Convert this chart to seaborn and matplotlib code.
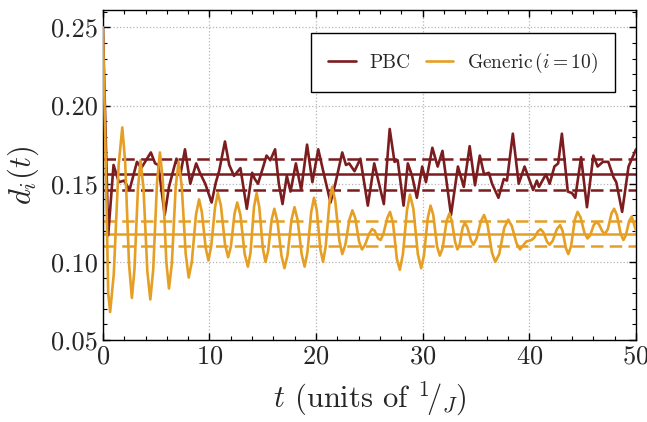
import matplotlib
matplotlib.use("Agg")
import matplotlib.pyplot as plt
import pandas as pd
import seaborn as sns
from matplotlib.ticker import MultipleLocator

# PBC trace (time, value)
pbc_t = [0.0, 0.5, 1.0, 1.5, 2.0, 2.5, 3.2, 3.6, 4.5, 4.9, 5.2, 5.8, 6.2, 6.7,
         6.9, 7.3, 7.7, 8.2, 8.75, 9.1, 9.6, 10.2, 10.6, 10.9, 11.45, 11.85,
         12.3, 12.9, 13.5, 14.0, 14.25, 14.55, 15.0, 15.35, 15.7, 16.15, 16.5,
         16.85, 17.25, 17.6, 18.1, 18.6, 19.15, 19.65, 20.2, 20.7, 21.35, 21.8,
         22.45, 22.8, 23.1, 23.6, 24.15, 24.85, 25.45, 26.35, 26.9, 27.35,
         27.65, 28.2, 28.6, 29.0, 29.45, 29.95, 30.3, 30.9, 31.4, 31.85, 32.65,
         33.3, 33.85, 34.4, 34.9, 35.35, 35.75, 36.2, 36.5, 37.1, 37.6, 37.9,
         38.45, 39.0, 39.55, 40.35, 40.7, 40.9, 41.55, 41.9, 42.35, 42.7,
         43.05, 43.6, 44.0, 44.3, 44.85, 45.4, 46.0, 46.4, 46.9, 47.4, 47.9,
         48.15, 48.7, 49.3, 50.0]
pbc_d = [0.250, 0.117, 0.162, 0.151, 0.152, 0.146, 0.164, 0.160, 0.170, 0.163,
         0.162, 0.130, 0.148, 0.161, 0.166, 0.157, 0.172, 0.150, 0.163, 0.157,
         0.150, 0.138, 0.151, 0.158, 0.177, 0.162, 0.155, 0.160, 0.134, 0.157,
         0.153, 0.150, 0.160, 0.168, 0.165, 0.172, 0.150, 0.137, 0.155, 0.145,
         0.163, 0.146, 0.175, 0.151, 0.172, 0.157, 0.138, 0.150, 0.170, 0.162,
         0.163, 0.158, 0.166, 0.136, 0.163, 0.137, 0.185, 0.164, 0.165, 0.136,
         0.163, 0.155, 0.141, 0.161, 0.151, 0.173, 0.161, 0.171, 0.130, 0.161,
         0.148, 0.174, 0.149, 0.168, 0.156, 0.157, 0.150, 0.141, 0.153, 0.152,
         0.182, 0.150, 0.161, 0.146, 0.152, 0.148, 0.156, 0.150, 0.161, 0.163,
         0.182, 0.145, 0.144, 0.141, 0.167, 0.135, 0.168, 0.161, 0.164, 0.164,
         0.154, 0.151, 0.132, 0.161, 0.172]

# Generic (i = 10) trace
gen_t = [0.0, 0.25, 0.5, 0.68,
         1.02, 1.48, 1.82, 2.09, 2.45, 2.72, 2.96, 3.29, 3.53, 3.81, 4.17, 4.45,
         4.72, 5.08, 5.35, 5.61, 5.95, 6.2, 6.47, 6.83, 7.1, 7.39, 7.77, 8.05,
         8.34, 8.73, 9.02, 9.28, 9.64, 9.9, 10.16, 10.52, 10.78, 11.07, 11.46,
         11.75, 12.01, 12.35, 12.6, 12.9, 13.3, 13.6, 13.85, 14.17, 14.42,
         14.67, 15.0, 15.25, 15.5, 15.83, 16.08, 16.37, 16.75, 17.03, 17.31,
         17.69, 17.97, 18.26, 18.64, 18.92, 19.18, 19.54, 19.8, 20.06, 20.4,
         20.65, 20.9, 21.25, 21.5, 21.79, 22.17, 22.45, 22.74, 23.12, 23.4,
         23.67, 24.03, 24.3, 24.59, 24.97, 25.25, 25.49, 25.81, 26.05, 26.31,
         26.67, 26.93, 27.21, 27.57, 27.85, 28.14, 28.52, 28.8, 29.12, 29.54,
         29.85, 30.11, 30.47, 30.73, 30.99, 31.34, 31.6, 31.87, 32.23, 32.5,
         32.73, 33.03, 33.25, 33.46, 33.74, 33.95, 34.19, 34.51, 34.75, 35.05,
         35.45, 35.75, 36.07, 36.49, 36.8, 37.17, 37.65, 38.02, 38.35, 38.79,
         39.12, 39.7, 40.2, 40.46, 40.8, 41.05, 41.31, 41.65, 41.9, 42.19,
         42.58, 42.88, 43.11, 43.42, 43.65, 43.91, 44.26, 44.52, 44.8, 45.17,
         45.45, 45.7, 46.03, 46.28, 46.53, 46.85, 47.1, 47.36, 47.7, 47.95,
         48.21, 48.56, 48.82, 49.05, 49.35, 49.6, 50.0]
gen_d = [0.250, 0.170, 0.080, 0.068,
         0.092, 0.162, 0.186, 0.164, 0.099, 0.077, 0.095, 0.147, 0.165, 0.147,
         0.094, 0.076, 0.095, 0.151, 0.170, 0.153, 0.100, 0.083, 0.099, 0.148,
         0.164, 0.149, 0.105, 0.090, 0.100, 0.130, 0.140, 0.132, 0.109, 0.101,
         0.110, 0.135, 0.144, 0.136, 0.111, 0.103, 0.110, 0.131, 0.138, 0.130,
         0.105, 0.097, 0.106, 0.135, 0.144, 0.135, 0.109, 0.100, 0.107, 0.127,
         0.134, 0.126, 0.104, 0.096, 0.104, 0.127, 0.135, 0.127, 0.105, 0.097,
         0.106, 0.132, 0.141, 0.133, 0.108, 0.100, 0.110, 0.138, 0.148, 0.139,
         0.114, 0.105, 0.111, 0.127, 0.133, 0.128, 0.113, 0.108, 0.111, 0.118,
         0.121, 0.120, 0.115, 0.114, 0.118, 0.128, 0.132, 0.125, 0.102, 0.095,
         0.105, 0.133, 0.143, 0.134, 0.105, 0.096, 0.104, 0.128, 0.136, 0.130,
         0.110, 0.104, 0.109, 0.126, 0.131, 0.126, 0.113, 0.108, 0.111, 0.122,
         0.125, 0.122, 0.114, 0.111, 0.115, 0.126, 0.130, 0.124, 0.106, 0.100,
         0.105, 0.122, 0.127, 0.123, 0.112, 0.108, 0.113, 0.114, 0.1155, 0.1195,
         0.121, 0.119, 0.113, 0.111, 0.1135, 0.121, 0.1235, 0.120, 0.109, 0.105,
         0.110, 0.127, 0.132, 0.1285, 0.1185, 0.115, 0.117, 0.1235, 0.1255,
         0.124, 0.1195, 0.118, 0.121, 0.131, 0.134, 0.130, 0.118, 0.114, 0.117,
         0.126, 0.129, 0.120]

# time-averaged value and spread shown as horizontal lines
pbc_mean, pbc_std = 0.156, 0.010
gen_mean, gen_std = 0.118, 0.008

PBC_COLOR = "#7b1c1f"
GEN_COLOR = "#e69f25"

sns.set_theme(style="ticks")
plt.rcParams["font.family"] = "cmr10"
plt.rcParams["mathtext.fontset"] = "cm"
plt.rcParams["axes.formatter.use_mathtext"] = True
plt.rcParams["axes.unicode_minus"] = False

fig = plt.figure(figsize=(6.47, 4.22), dpi=100)
ax = fig.add_axes([0.159, 0.194, 0.824, 0.782])

for mean, std, color in [(pbc_mean, pbc_std, PBC_COLOR), (gen_mean, gen_std, GEN_COLOR)]:
    ax.axhline(mean, color=color, lw=1.8, zorder=2)
    ax.axhline(mean + std, color=color, lw=1.8, ls=(0, (5, 2.5)), zorder=2)
    ax.axhline(mean - std, color=color, lw=1.8, ls=(0, (5, 2.5)), zorder=2)

pbc_df = pd.DataFrame({"t": pbc_t, "d": pbc_d})
gen_df = pd.DataFrame({"t": gen_t, "d": gen_d})
sns.lineplot(data=pbc_df, x="t", y="d", ax=ax, color=PBC_COLOR, lw=1.9,
             label="PBC", zorder=3, solid_joinstyle="round")
sns.lineplot(data=gen_df, x="t", y="d", ax=ax, color=GEN_COLOR, lw=1.9,
             label=r"Generic$\,(i = 10)$", zorder=3, solid_joinstyle="round")

ax.set_xlim(0, 50)
ax.set_ylim(0.05, 0.261)
ax.xaxis.set_major_locator(MultipleLocator(10))
ax.xaxis.set_minor_locator(MultipleLocator(2))
ax.yaxis.set_major_locator(MultipleLocator(0.05))
ax.yaxis.set_minor_locator(MultipleLocator(0.01))
ax.yaxis.set_major_formatter(plt.FuncFormatter(lambda v, _: f"{v:.2f}"))
ax.tick_params(which="both", direction="in", top=True, right=True,
               labelsize=19, color="black")
ax.tick_params(which="major", length=5, width=1)
ax.tick_params(which="minor", length=3, width=0.8)
ax.grid(True, which="major", ls=":", color="#b5b5b5", lw=0.9)
for spine in ax.spines.values():
    spine.set_color("black")
    spine.set_linewidth(1.0)

ax.set_xlabel(r"$t$ (units of $^{1}\!/_{J}$)", fontsize=22, labelpad=8)
ax.set_ylabel(r"$d_i(t)$", fontsize=22, labelpad=7)

leg = ax.legend(loc="upper right", bbox_to_anchor=(0.961, 0.93), borderaxespad=0,
                ncol=2, fontsize=14, frameon=True, fancybox=False,
                edgecolor="black", framealpha=1, handlelength=1.4,
                borderpad=0.9, columnspacing=0.8, handletextpad=0.7)
leg.get_frame().set_linewidth(1.0)

fig.savefig("out.png", dpi=100)
